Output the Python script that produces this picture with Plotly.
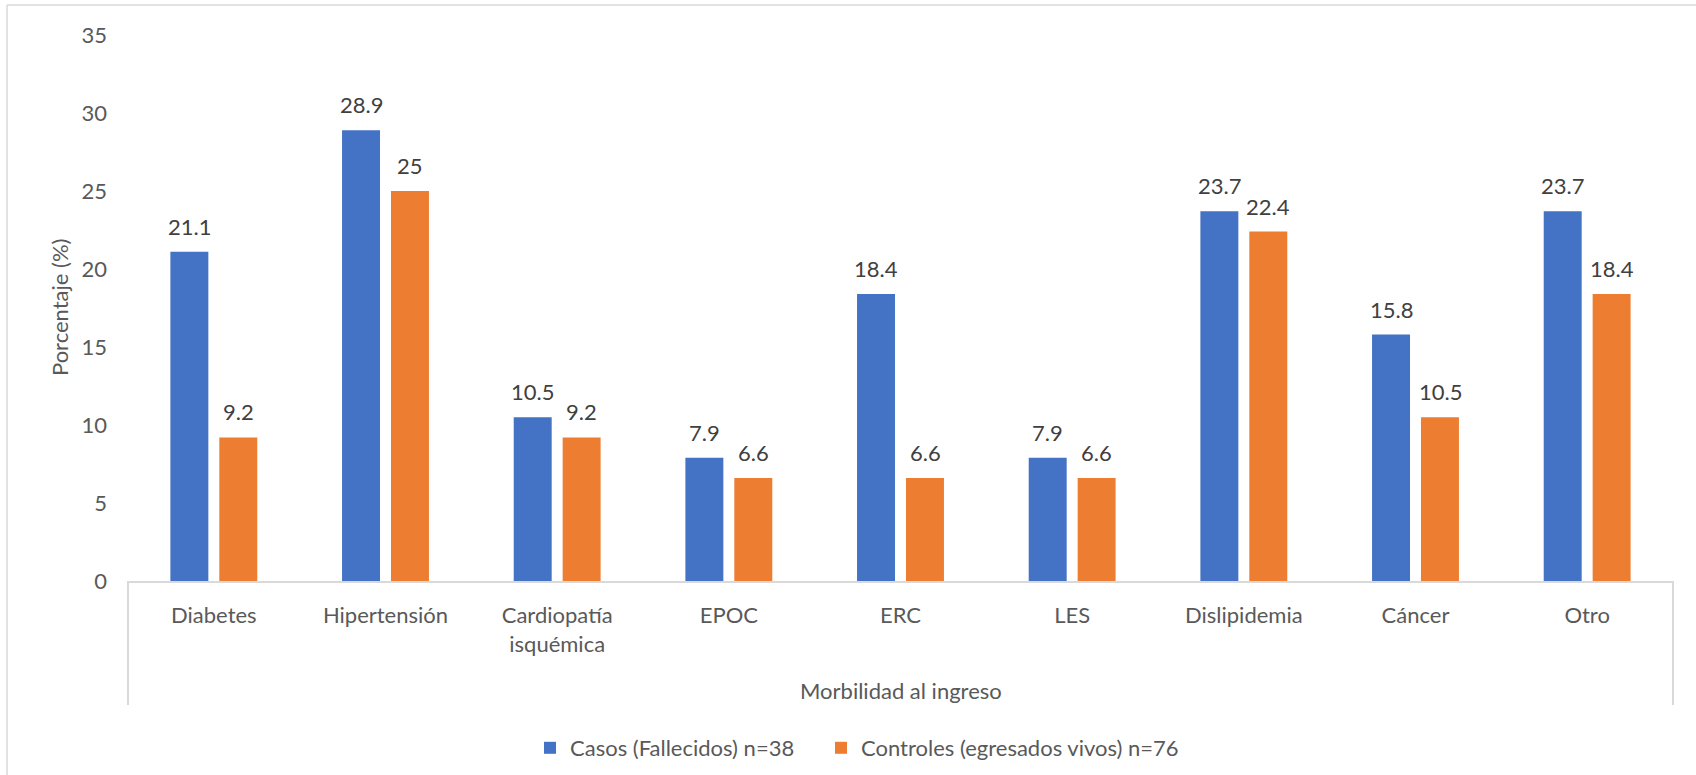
import plotly.graph_objects as go

# Comorbidities at admission, percentage per group
categories = ["Diabetes", "Hipertensión", "Cardiopatía<br>isquémica", "EPOC", "ERC",
              "LES", "Dislipidemia", "Cáncer", "Otro"]
casos = [21.1, 28.9, 10.5, 7.9, 18.4, 7.9, 23.7, 15.8, 23.7]
controles = [9.2, 25, 9.2, 6.6, 6.6, 6.6, 22.4, 10.5, 18.4]
series_names = ["Casos (Fallecidos) n=38", "Controles (egresados vivos) n=76"]
y_ticks = [0, 5, 10, 15, 20, 25, 30, 35]

BLUE = "#4472C4"
ORANGE = "#ED7D31"
TICK_GRAY = "#595959"
LABEL_GRAY = "#404040"
LINE_GRAY = "#D9D9D9"
FONT = "Lato"
FS = 22

W, H = 1696, 775
ML, MR, MT, MB = 128, 23, 35, 194
PW = W - ML - MR
PH = H - MT - MB


def px_x(px):
    return (px - ML) / PW


def px_y(py):
    return (H - MB - py) / PH


fig = go.Figure()
fig.add_trace(go.Bar(x=categories, y=casos, name=series_names[0], marker_color=BLUE,
                     marker_line_width=0, legendwidth=246))
fig.add_trace(go.Bar(x=categories, y=controles, name=series_names[1], marker_color=ORANGE,
                     marker_line_width=0))

# value labels above each bar
slot_px = 49
annotations = []
for vals, shift in ((casos, -slot_px / 2), (controles, slot_px / 2)):
    for cat, v in zip(categories, vals):
        annotations.append(dict(x=cat, y=v, xref="x", yref="y", text=f"{v:g}",
                                showarrow=False, xshift=shift, yanchor="bottom", yshift=10,
                                font=dict(family=FONT, size=FS, color=LABEL_GRAY)))

# axis titles
annotations.append(dict(x=0.5, y=px_y(690), xref="paper", yref="paper",
                        text="Morbilidad al ingreso", showarrow=False,
                        xanchor="center", yanchor="middle",
                        font=dict(family=FONT, size=FS, color=TICK_GRAY)))
annotations.append(dict(x=px_x(59), y=0.5, xref="paper", yref="paper",
                        text="Porcentaje (%)", showarrow=False, textangle=-90,
                        xanchor="center", yanchor="middle",
                        font=dict(family=FONT, size=FS, color=TICK_GRAY)))

shapes = [
    # category bracket below the axis
    dict(type="line", xref="paper", yref="paper", x0=0, x1=0, y0=0, y1=px_y(705),
         line=dict(color=LINE_GRAY, width=2)),
    dict(type="line", xref="paper", yref="paper", x0=1, x1=1, y0=0, y1=px_y(705),
         line=dict(color=LINE_GRAY, width=2)),
    # chart area frame
    dict(type="line", xref="paper", yref="paper", x0=px_x(7), x1=px_x(W + 10),
         y0=px_y(5), y1=px_y(5), line=dict(color=LINE_GRAY, width=1.5)),
    dict(type="line", xref="paper", yref="paper", x0=px_x(7), x1=px_x(7),
         y0=px_y(5), y1=px_y(H + 10), line=dict(color=LINE_GRAY, width=1.5)),
]

fig.update_layout(
    width=W, height=H,
    margin=dict(l=ML, r=MR, t=MT, b=MB, autoexpand=False),
    paper_bgcolor="white", plot_bgcolor="white",
    barmode="group", bargap=0.43, bargroupgap=0.224,
    font=dict(family=FONT, size=FS, color=TICK_GRAY),
    showlegend=True,
    legend=dict(orientation="h", x=px_x(530), xanchor="left", y=px_y(748),
                yanchor="middle", font=dict(family=FONT, size=FS, color=TICK_GRAY),
                itemwidth=30, bgcolor="rgba(0,0,0,0)"),
    annotations=annotations,
    shapes=shapes,
)
fig.update_xaxes(showline=True, linecolor=LINE_GRAY, linewidth=2, showgrid=False,
                 ticks="", tickangle=0, ticklabelstandoff=14,
                 tickfont=dict(family=FONT, size=FS, color=TICK_GRAY))
fig.update_yaxes(range=[0, 35], tickvals=y_ticks, showgrid=False, showline=False,
                 zeroline=False, ticks="", ticklabelstandoff=20,
                 tickfont=dict(family=FONT, size=FS, color=TICK_GRAY))

fig.write_html("out.html")
